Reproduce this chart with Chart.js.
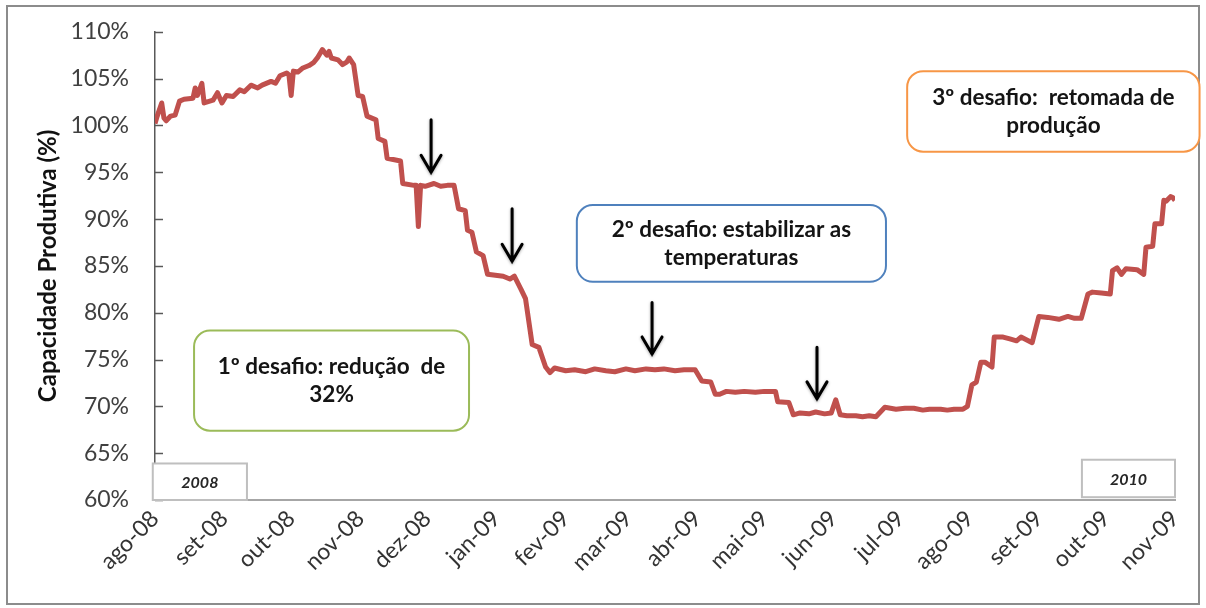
<!DOCTYPE html>
<html>
<head>
<meta charset="utf-8">
<title>Capacidade Produtiva</title>
<script src="https://cdn.jsdelivr.net/npm/chart.js@4.4.1/dist/chart.umd.min.js"></script>
<style>
	html, body { margin: 0; padding: 0; background: #fff; }
	#wrap { width: 1206px; height: 608px; }
</style>
</head>
<body>
<div id="wrap"><canvas id="chart" width="1206" height="608"></canvas></div>
<script>
( function() {
	'use strict';

	/**
	 * Days counted from 1 Aug 2008, and the capacity (%) read on each of them.
	 */
	var days = [
		0, 1, 3, 4, 5, 7, 9, 11, 13, 17, 18, 19, 21, 22, 26, 28, 30, 32, 35, 38,
		40, 43, 46, 48, 52, 54, 56, 59, 60, 61, 62, 64, 66, 69, 71, 73, 75, 77, 78, 79,
		82, 84, 86, 87, 89, 91, 93, 95, 99, 100, 103, 104, 110, 111, 116, 117, 118, 119, 121, 125,
		128, 131, 134, 136, 139, 140, 142, 144, 147, 149, 156, 159, 161, 164, 166, 169, 172, 175, 177, 179,
		184, 188, 193, 197, 202, 206, 211, 215, 220, 224, 228, 233, 237, 242, 245, 249, 251, 253, 256, 260,
		264, 269, 273, 278, 279, 284, 286, 289, 293, 296, 300, 303, 305, 307, 310, 314, 317, 320, 323, 327,
		332, 336, 340, 344, 347, 352, 355, 358, 362, 364, 366, 368, 370, 372, 375, 376, 380, 383, 386, 388,
		393, 396, 400, 405, 409, 412, 415, 418, 420, 424, 428, 429, 431, 433, 435, 440, 443, 444, 447, 448,
		451, 452, 453, 455, 456, 457
	];

	var capacity = [
		100.2, 101.0, 102.4, 100.8, 100.5, 101.0, 101.1, 102.6, 102.8, 102.9, 104.0, 103.2, 104.5, 102.4, 102.7, 103.5, 102.4, 103.2, 103.1, 103.8,
		103.6, 104.3, 104.0, 104.3, 104.7, 104.5, 105.3, 105.6, 105.4, 103.2, 105.8, 105.7, 106.1, 106.4, 106.7, 107.3, 108.1, 107.5, 107.9, 107.2,
		107.0, 106.5, 106.8, 107.2, 106.5, 103.2, 103.1, 101.0, 100.6, 98.6, 98.3, 96.5, 96.2, 93.8, 93.6, 93.6, 89.2, 93.6, 93.5, 93.8,
		93.5, 93.6, 93.6, 91.1, 90.9, 88.8, 88.6, 86.5, 86.1, 84.1, 83.9, 83.6, 83.9, 82.5, 81.5, 76.6, 76.3, 74.2, 73.6, 74.1,
		73.8, 73.9, 73.7, 74.0, 73.8, 73.7, 74.0, 73.8, 74.0, 73.9, 74.0, 73.8, 73.9, 73.9, 72.7, 72.6, 71.3, 71.3, 71.6, 71.5,
		71.6, 71.5, 71.6, 71.6, 70.5, 70.4, 69.1, 69.3, 69.2, 69.4, 69.2, 69.3, 70.7, 69.1, 69.0, 69.0, 68.9, 69.0, 68.9, 69.9,
		69.7, 69.8, 69.8, 69.6, 69.7, 69.7, 69.6, 69.7, 69.7, 70.0, 72.3, 72.6, 74.7, 74.7, 74.2, 77.4, 77.4, 77.2, 77.0, 77.4,
		76.8, 79.6, 79.5, 79.3, 79.6, 79.4, 79.4, 82.0, 82.2, 82.1, 82.0, 84.5, 84.8, 84.1, 84.7, 84.6, 84.1, 87.0, 87.1, 89.5,
		89.5, 92.0, 91.9, 92.4, 92.3, 92.0
	];

	/**
	 * Month ticks of the x axis.
	 */
	var monthDays = [ 0, 31, 61, 92, 122, 153, 184, 212, 243, 273, 304, 334, 365, 396, 426, 457 ];
	var monthLabels = [
		'ago-08', 'set-08', 'out-08', 'nov-08', 'dez-08', 'jan-09', 'fev-09', 'mar-09',
		'abr-09', 'mai-09', 'jun-09', 'jul-09', 'ago-09', 'set-09', 'out-09', 'nov-09'
	];

	var yMin = 60;
	var yMax = 110;
	var yStep = 5;

	/**
	 * Callout boxes, placed in data units (day, %).
	 */
	var callouts = [
		{ lines: [ '1º desafio: redução  de', '32%' ], x0: 17.5, x1: 140.7, y0: 78.1, y1: 67.4, color: '#9BBB59' },
		{ lines: [ '2º desafio: estabilizar as', 'temperaturas' ], x0: 189, x1: 327.5, y0: 91.5, y1: 83.3, color: '#4F81BD' },
		{ lines: [ '3º desafio:  retomada de', 'produção' ], x0: 337, x1: 468, y0: 105.8, y1: 97.2, color: '#F79646' }
	];

	var arrows = [
		{ x: 123.7, top: 100.6, tip: 95.0 },
		{ x: 160.0, top: 91.1, tip: 85.5 },
		{ x: 222.7, top: 81.1, tip: 75.6 },
		{ x: 296.6, top: 76.3, tip: 70.8 }
	];

	var yearBoxes = [
		{ text: '2008', x0: -1, x1: 41.2, y0: 63.9, y1: 60.0 },
		{ text: '2010', x0: 415.3, x1: 457, y0: 64.3, y1: 60.3 }
	];

	/**
	 * Trace a rounded rectangle path.
	 */
	function roundRectPath( ctx, x, y, w, h, r ) {
		ctx.beginPath();
		ctx.moveTo( x + r, y );
		ctx.lineTo( x + w - r, y );
		ctx.arcTo( x + w, y, x + w, y + r, r );
		ctx.lineTo( x + w, y + h - r );
		ctx.arcTo( x + w, y + h, x + w - r, y + h, r );
		ctx.lineTo( x + r, y + h );
		ctx.arcTo( x, y + h, x, y + h - r, r );
		ctx.lineTo( x, y + r );
		ctx.arcTo( x, y, x + r, y, r );
		ctx.closePath();
	}

	/**
	 * Background, frame, inner ticks and the annotations.
	 */
	var decorPlugin = {
		id: 'decor',
		beforeDraw: function( chart ) {
			var ctx = chart.ctx;
			ctx.save();
			ctx.fillStyle = '#fff';
			ctx.fillRect( 0, 0, chart.width, chart.height );
			ctx.strokeStyle = '#8c8c8c';
			ctx.lineWidth = 2;
			ctx.strokeRect( 7, 6, chart.width - 14, chart.height - 10 );
			ctx.restore();
		},
		afterDraw: function( chart ) {
			var ctx = chart.ctx;
			var xs = chart.scales.x;
			var ys = chart.scales.y;
			var left = chart.chartArea.left;

			ctx.save();

			// Tick marks on the inner side of the y axis.
			ctx.strokeStyle = '#595959';
			ctx.lineWidth = 1.5;
			ys.ticks.forEach( function( t ) {
				var py = Math.round( ys.getPixelForValue( t.value ) ) + 0.5;
				ctx.beginPath();
				ctx.moveTo( left, py );
				ctx.lineTo( left + 8, py );
				ctx.stroke();
			} );

			// Year boxes.
			yearBoxes.forEach( function( b ) {
				var x0 = xs.getPixelForValue( b.x0 );
				var x1 = xs.getPixelForValue( b.x1 );
				var y0 = ys.getPixelForValue( b.y0 );
				var y1 = ys.getPixelForValue( b.y1 );
				ctx.fillStyle = '#fff';
				ctx.fillRect( x0, y0, x1 - x0, y1 - y0 );
				ctx.strokeStyle = '#bfbfbf';
				ctx.lineWidth = 2;
				ctx.strokeRect( x0, y0, x1 - x0, y1 - y0 );
				ctx.fillStyle = '#262626';
				ctx.font = 'italic bold 16px Lato';
				ctx.textAlign = 'center';
				ctx.textBaseline = 'middle';
				ctx.fillText( b.text, ( x0 + x1 ) / 2, ( y0 + y1 ) / 2 + 1 );
			} );

			// Callout boxes.
			callouts.forEach( function( c ) {
				var x0 = xs.getPixelForValue( c.x0 );
				var x1 = xs.getPixelForValue( c.x1 );
				var y0 = ys.getPixelForValue( c.y0 );
				var y1 = ys.getPixelForValue( c.y1 );
				roundRectPath( ctx, x0, y0, x1 - x0, y1 - y0, 16 );
				ctx.fillStyle = '#fff';
				ctx.fill();
				ctx.strokeStyle = c.color;
				ctx.lineWidth = 2;
				ctx.stroke();

				var lineH = 28;
				var cy = ( y0 + y1 ) / 2 - ( c.lines.length - 1 ) * lineH / 2;
				ctx.fillStyle = '#141414';
				ctx.font = 'bold 22.5px Lato';
				ctx.textAlign = 'center';
				ctx.textBaseline = 'middle';
				c.lines.forEach( function( line, i ) {
					ctx.fillText( line, ( x0 + x1 ) / 2, cy + i * lineH );
				} );
			} );

			// Down arrows.
			ctx.strokeStyle = '#000';
			ctx.lineWidth = 3;
			ctx.lineCap = 'round';
			ctx.shadowColor = 'rgba(0, 0, 0, 0.35)';
			ctx.shadowBlur = 3;
			ctx.shadowOffsetY = 1;
			arrows.forEach( function( a ) {
				var px = xs.getPixelForValue( a.x );
				var top = ys.getPixelForValue( a.top );
				var tip = ys.getPixelForValue( a.tip );
				ctx.beginPath();
				ctx.moveTo( px, top );
				ctx.lineTo( px, tip );
				ctx.moveTo( px - 10, tip - 17 );
				ctx.lineTo( px, tip );
				ctx.lineTo( px + 10, tip - 17 );
				ctx.stroke();
			} );

			ctx.restore();
		}
	};

	var points = days.map( function( d, i ) {
		return { x: d, y: capacity[ i ] };
	} );

	Chart.defaults.font.family = 'Lato, "Open Sans", sans-serif';

	new Chart( document.getElementById( 'chart' ), {
		type: 'line',
		data: {
			datasets: [ {
				label: 'Capacidade Produtiva',
				data: points,
				borderColor: '#C0504D',
				borderWidth: 5,
				borderJoinStyle: 'round',
				pointRadius: 0,
				tension: 0,
				fill: false
			} ]
		},
		options: {
			responsive: false,
			animation: false,
			events: [],
			layout: {
				padding: { top: 28, right: 31, bottom: 0, left: 0 }
			},
			plugins: {
				legend: { display: false },
				tooltip: { enabled: false }
			},
			scales: {
				x: {
					type: 'linear',
					min: monthDays[ 0 ],
					max: monthDays[ monthDays.length - 1 ],
					afterBuildTicks: function( scale ) {
						scale.ticks = monthDays.map( function( v ) {
							return { value: v };
						} );
					},
					afterFit: function( scale ) {
						scale.height = 108;
					},
					grid: { display: false },
					border: { display: true, color: '#a6a6a6', width: 2 },
					ticks: {
						autoSkip: false,
						minRotation: 45,
						maxRotation: 45,
						padding: -3,
						color: '#333',
						font: { size: 23 },
						callback: function( value ) {
							var i = monthDays.indexOf( value );
							return i >= 0 ? monthLabels[ i ] : '';
						}
					}
				},
				y: {
					min: yMin,
					max: yMax,
					afterFit: function( scale ) {
						scale.width = 155;
					},
					grid: { display: false },
					border: { display: true, color: '#595959', width: 1.5 },
					ticks: {
						stepSize: yStep,
						padding: 18,
						color: '#404040',
						font: { size: 23 },
						callback: function( value ) {
							return value + '%';
						}
					},
					title: {
						display: true,
						text: 'Capacidade Produtiva (%)',
						color: '#111',
						font: { size: 24, weight: 'bold' },
						padding: { top: 34 }
					}
				}
			}
		},
		plugins: [ decorPlugin ]
	} );

} )();
</script>
</body>
</html>
